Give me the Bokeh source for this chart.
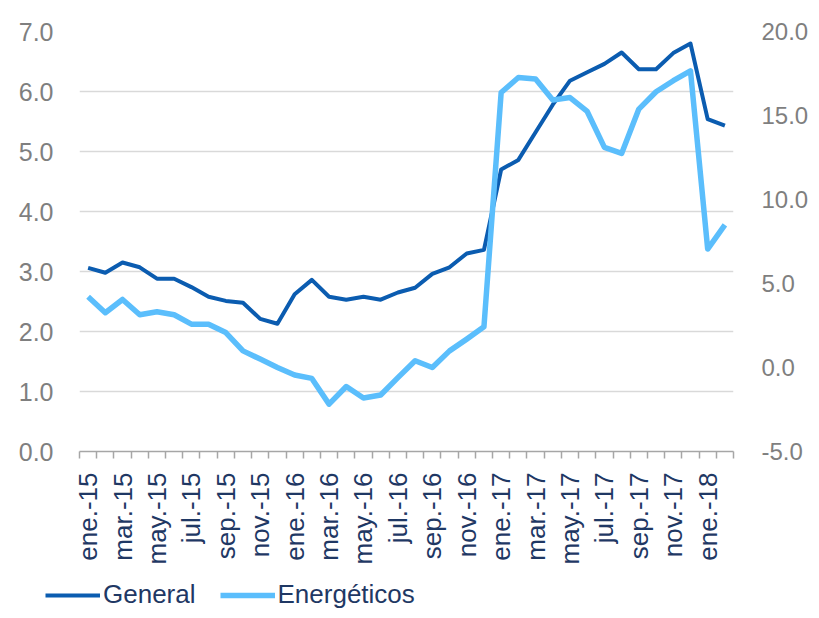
import math
from bokeh.plotting import figure
from bokeh.layouts import column, row
from bokeh.models import (ColumnDataSource, Range1d, LinearAxis, FixedTicker,
                          NumeralTickFormatter, Legend, LegendItem)
from bokeh.embed import file_html
from bokeh.resources import INLINE

# ---------------- data ----------------
months = ["ene.", "feb.", "mar.", "abr.", "may.", "jun.",
          "jul.", "ago.", "sep.", "oct.", "nov.", "dic."]
periods = [f"{months[m]}-{yy}" for yy in (15, 16, 17, 18) for m in range(12)][:38]

general = [3.06, 2.98, 3.15, 3.07, 2.88, 2.88, 2.74, 2.58, 2.51, 2.48, 2.21, 2.13,
           2.62, 2.86, 2.58, 2.53, 2.58, 2.53, 2.65, 2.73, 2.96, 3.07, 3.30, 3.36,
           4.70, 4.86, 5.32, 5.78, 6.18, 6.32, 6.46, 6.65, 6.37, 6.37, 6.64, 6.80,
           5.54, 5.43]

energeticos = [4.21, 3.26, 4.05, 3.14, 3.32, 3.14, 2.58, 2.58, 2.08, 0.99, 0.50, 0.00,
               -0.45, -0.65, -2.18, -1.13, -1.82, -1.64, -0.60, 0.40, 0.00, 0.99, 1.69, 2.42,
               16.37, 17.26, 17.17, 15.92, 16.07, 15.24, 13.10, 12.74, 15.38, 16.41, 17.07, 17.66,
               7.05, 8.49]

series_names = ["General", "Energéticos"]
left_ticks = [0, 1, 2, 3, 4, 5, 6, 7]
right_ticks = [-5, 0, 5, 10, 15, 20]

# ---------------- styling ----------------
FONT = "Liberation Sans"
C_GEN = "#0B5CB0"
C_ENE = "#5BBEFC"
GREY = "#7F7F7F"
NAVY = "#1F3864"
W_GEN, W_ENE = 4, 5.5

x = [i + 0.5 for i in range(len(periods))]
src = ColumnDataSource(dict(x=x, general=general, energeticos=energeticos))

p = figure(width=811, height=575, output_backend="svg", toolbar_location=None,
           x_range=Range1d(0, len(periods)), y_range=Range1d(0, 7),
           min_border_left=79, min_border_right=70, min_border_top=31,
           min_border_bottom=124, x_axis_location="below")
p.outline_line_color = None
p.background_fill_color = "white"
p.border_fill_color = "white"

p.extra_y_ranges = {"right": Range1d(-5, 20)}

r_gen = p.line("x", "general", source=src, line_color=C_GEN, line_width=W_GEN,
               line_join="round")
r_ene = p.line("x", "energeticos", source=src, line_color=C_ENE, line_width=W_ENE,
               line_join="round", y_range_name="right")

# left axis
ya = p.yaxis[0]
ya.ticker = FixedTicker(ticks=left_ticks)
ya.formatter = NumeralTickFormatter(format="0.0")
ya.axis_line_color = None
ya.major_tick_line_color = None
ya.minor_tick_line_color = None
ya.major_label_text_font = FONT
ya.major_label_text_font_size = "25px"
ya.major_label_text_color = GREY
ya.major_label_standoff = 20

# right axis
ra = LinearAxis(y_range_name="right")
ra.ticker = FixedTicker(ticks=right_ticks)
ra.formatter = NumeralTickFormatter(format="0.0")
ra.axis_line_color = None
ra.major_tick_line_color = None
ra.minor_tick_line_color = None
ra.major_label_text_font = FONT
ra.major_label_text_font_size = "24px"
ra.major_label_text_color = GREY
ra.major_label_standoff = 22
p.add_layout(ra, "right")

# x axis
xa = p.xaxis[0]
label_pos = [i + 0.5 for i in range(0, len(periods), 2)]
xa.ticker = FixedTicker(ticks=label_pos, minor_ticks=list(range(len(periods) + 1)))
xa.major_label_overrides = {i + 0.5: periods[i] for i in range(0, len(periods), 2)}
xa.major_label_orientation = math.pi / 2
xa.major_tick_line_color = None
xa.major_tick_out = 7
xa.major_tick_in = 0
xa.minor_tick_out = 7
xa.minor_tick_in = 0
xa.minor_tick_line_color = "#A6A6A6"
xa.minor_tick_line_width = 1.5
xa.axis_line_color = "#A6A6A6"
xa.axis_line_width = 1.5
xa.major_label_text_font = FONT
xa.major_label_text_font_size = "26px"
xa.major_label_text_color = NAVY
xa.major_label_standoff = 14

# grid
p.xgrid.grid_line_color = None
p.ygrid.ticker = FixedTicker(ticks=left_ticks)
p.ygrid.grid_line_color = "#D9D9D9"
p.ygrid.grid_line_width = 1.7

# ---------------- legend strip ----------------
lg = figure(width=811, height=35, output_backend="svg", toolbar_location=None,
            x_range=Range1d(0, 1), y_range=Range1d(0, 1),
            min_border_left=0, min_border_right=0, min_border_top=0,
            min_border_bottom=0, x_axis_type=None, y_axis_type=None)
lg.outline_line_color = None
lg.xgrid.grid_line_color = None
lg.ygrid.grid_line_color = None
nan = float("nan")
k_gen = lg.line(x=[nan, nan], y=[nan, nan], line_color=C_GEN, line_width=W_GEN)
k_ene = lg.line(x=[nan, nan], y=[nan, nan], line_color=C_ENE, line_width=W_ENE)

legend = Legend(items=[LegendItem(label=series_names[0], renderers=[k_gen]),
                       LegendItem(label=series_names[1], renderers=[k_ene])],
                location=(45, 0), orientation="horizontal",
                border_line_color=None, background_fill_alpha=0,
                label_text_font=FONT, label_text_font_size="26px",
                label_text_color=NAVY, glyph_width=55, glyph_height=20,
                label_standoff=3, spacing=24, padding=0, margin=0)
lg.add_layout(legend, "center")

layout = column(p, row(lg, spacing=0), spacing=0)
open("out.html", "w").write(file_html(layout, INLINE))
